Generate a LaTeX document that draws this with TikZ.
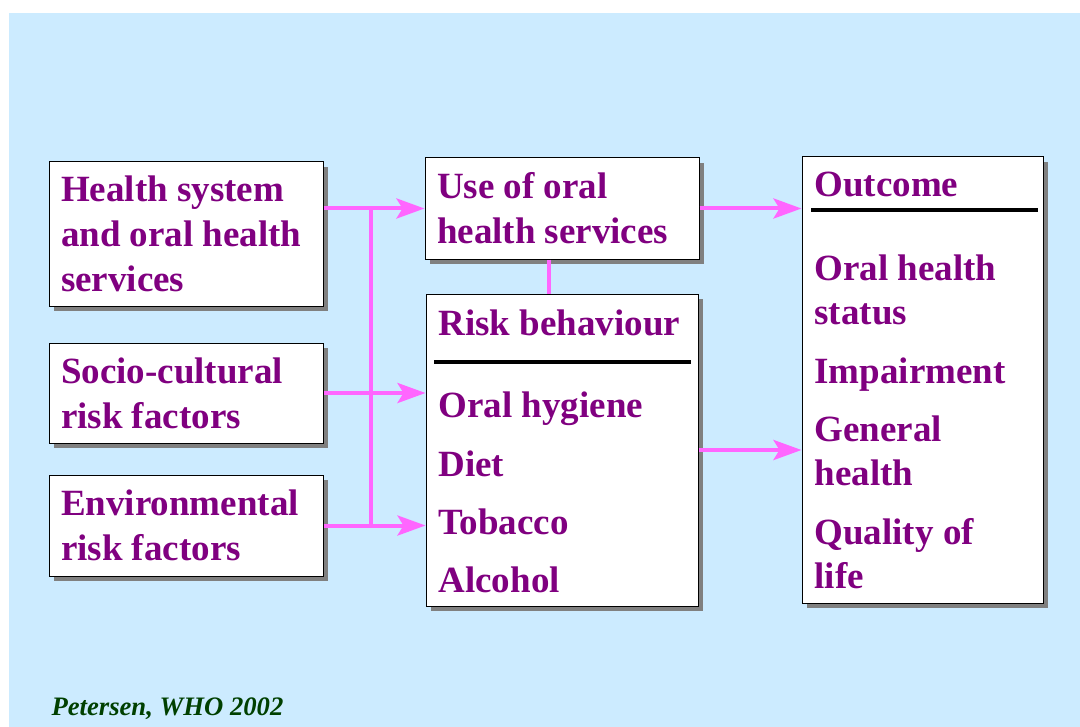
\documentclass[tikz,border=0pt]{standalone}
\usepackage{fontspec}
\setmainfont{Liberation Serif}
\usetikzlibrary{arrows.meta,shadows}

\definecolor{bgblue}{RGB}{204,235,255}
\definecolor{boxtext}{RGB}{128,0,128}
\definecolor{linkpink}{RGB}{255,102,255}
\definecolor{citegreen}{RGB}{0,64,0}
\definecolor{shadowgray}{RGB}{128,128,128}

\tikzset{every picture/.style={line width=0.75pt}}
\tikzset{
  boxshadow/.style={drop shadow={shadow xshift=3.75pt, shadow yshift=-3.75pt, fill=shadowgray, opacity=1}},
  factor/.style={draw=black, fill=white, boxshadow, text=boxtext,
    font=\bfseries\fontsize{27.75}{33.75}\selectfont, align=flush left,
    text width=187.5pt, inner xsep=9pt, inner ysep=0pt},
  panel/.style={draw=black, fill=white, boxshadow, inner sep=0pt},
  item/.style={anchor=base west, inner sep=0pt, text=boxtext,
    font=\bfseries\fontsize{27.75}{33.75}\selectfont},
  link/.style={draw=linkpink, line width=3pt},
  flow/.style={link, -{Stealth[length=21pt, width=15pt, inset=4.5pt]}},
  rule/.style={draw=black, line width=3.5pt}
}

\begin{document}
\begin{tikzpicture}[x=0.75pt,y=0.75pt,yscale=-1,xscale=1]
        \useasboundingbox (0,0) rectangle (1080,727);
        %Background
        \fill [bgblue] (9,13) rectangle (1080,727);

        %Left column
        \node [factor, minimum height=108pt] (hs) at (186,234) {Health system\\and oral health\\services};
        \node [factor, minimum height=75pt] (socio) at (186,393) {Socio-cultural\\risk factors};
        \node [factor, minimum height=75.75pt] (env) at (186,525.5) {Environmental\\risk factors};

        %Middle column
        \node [factor, minimum height=75.75pt] (use) at (562,208.5) {Use of oral\\health services};
        \node [panel, minimum width=204pt, minimum height=234pt] (risk) at (562,450) {};
        \node [item] (rb) at (438,335) {Risk behaviour};
        \draw [rule] (434,362) -- (691,362);
        \node [item] (hyg) at (438,417) {Oral hygiene};
        \node [item] (diet) at (438,476) {Diet};
        \node [item] (tob) at (438,534) {Tobacco};
        \node [item] (alc) at (438,592) {Alcohol};

        %Right column
        \node [panel, minimum width=180.75pt, minimum height=334.5pt] (out) at (922.5,380) {};
        \node [item] (oc) at (814,197) {Outcome};
        \draw [rule] (811,210) -- (1038,210);
        \node [item] (ohs1) at (814,280) {Oral health};
        \node [item] (ohs2) at (814,324) {status};
        \node [item] (imp) at (814,383) {Impairment};
        \node [item] (gh1) at (814,441) {General};
        \node [item] (gh2) at (814,485) {health};
        \node [item] (ql1) at (814,544) {Quality of};
        \node [item] (ql2) at (814,588) {life};

        %Connectors
        \coordinate (bus) at (371,0);
        \draw [link] (bus |- use.west) -- (bus |- env.east);
        \draw [flow] (hs.east |- use.west) -- (use.west);
        \draw [flow] (socio.east) -- (socio.east -| risk.west);
        \draw [flow] (env.east) -- (env.east -| risk.west);
        \draw [link] ([xshift=-9.75pt]use.south) -- ([xshift=-9.75pt]risk.north);
        \draw [flow] (use.east) -- (use.east -| out.west);
        \draw [flow] (risk.east) -- (risk.east -| out.west);

        %Source
        \node [anchor=base west, inner sep=0pt, text=citegreen, font=\bfseries\itshape\fontsize{20}{24}\selectfont] (src) at (51,715) {Petersen, WHO 2002};
\end{tikzpicture}
\end{document}
